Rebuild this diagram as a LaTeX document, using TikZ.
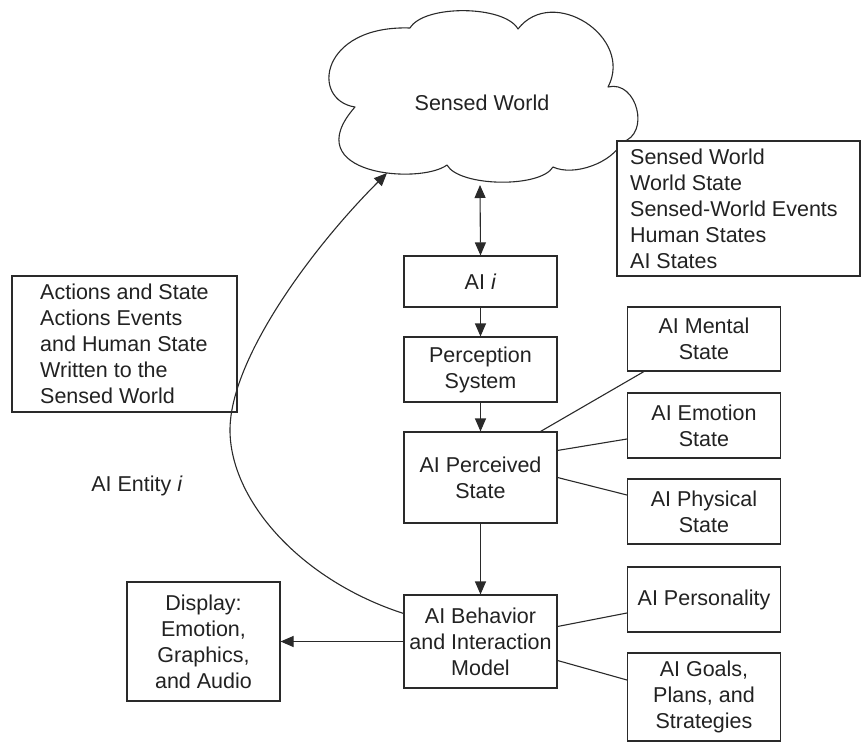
\documentclass[tikz,border=0pt]{standalone}
\usepackage{fontspec}
\setmainfont{Liberation Sans}
\usetikzlibrary{arrows.meta,calc}

\definecolor{ink}{HTML}{222222}
\definecolor{linec}{HTML}{2A2A2A}

\tikzset{
  every node/.style={text=ink, font=\fontsize{21.5}{26}\selectfont},
  boxnode/.style={draw=linec, line width=1.1pt, fill=white, inner sep=0pt,
    minimum width=153pt, align=center},
  framebox/.style={draw=linec, line width=1.1pt, fill=white, inner sep=0pt},
  listtext/.style={align=left, inner sep=0pt, anchor=west},
  link/.style={draw=linec, line width=1.1pt},
  arrow/.style={link, -{Triangle[length=13pt,width=11pt]}},
  twoway/.style={link, {Triangle[length=13pt,width=11pt]}-{Triangle[length=13pt,width=11pt]}},
}

\begin{document}
\begin{tikzpicture}[x=1pt, y=-1pt]
  \useasboundingbox (0,0) rectangle (863,744);

  % cloud outline, traced clockwise from the left notch
  \draw[link, line join=round]
    (355,107) .. controls (310,100) and (320,25) .. (410,28)
              to[bend left=60, looseness=0.65] (518,29)
              to[bend left=85, looseness=1.35] (608,87)
              to[bend left=90, looseness=1.35] (622,142)
              to[bend left=45, looseness=0.8]  (553,167)
              to[bend left=60, looseness=0.6]  (447,165)
              .. controls (420,185) and (295,175) .. cycle;
  \node (cloudtext) at (482,103) {Sensed World};
  \coordinate (cloudbottom) at (480,185);
  \coordinate (cloudleft) at (387,173);

  % list of sensed-world contents
  \node[framebox, minimum width=243pt, minimum height=135pt] (sensbox) at (738.5,208.5) {};
  \node[listtext] (senstext) at (630,208.5)
    {Sensed World\\World State\\Sensed-World Events\\Human States\\AI States};

  % what is written back to the world
  \node[framebox, minimum width=225pt, minimum height=136pt] (actbox) at (124.5,344) {};
  \node[listtext] (acttext) at (40,344)
    {Actions and State\\Actions Events\\and Human State\\Written to the\\Sensed World};

  \node (entity) at (137,486) {AI Entity \textit{i}};

  % main chain
  \node[boxnode, minimum height=51pt] (aii)    at (480.5,281.5) {AI \textit{i}};
  \node[boxnode, minimum height=65pt] (perc)   at (480.5,369.5) {Perception\\System};
  \node[boxnode, minimum height=91pt] (pstate) at (480.5,477.5) {AI Perceived\\State};
  \node[boxnode, minimum height=93pt] (beh)    at (480.5,641.5) {AI Behavior\\and Interaction\\Model};
  \node[boxnode, minimum height=119pt] (disp)  at (203.5,641.5) {Display:\\Emotion,\\Graphics,\\and Audio};

  % state and model components
  \node[boxnode, minimum height=64pt] (mental)   at (704,339)   {AI Mental\\State};
  \node[boxnode, minimum height=65pt] (emotion)  at (704,425.5) {AI Emotion\\State};
  \node[boxnode, minimum height=65pt] (physical) at (704,511.5) {AI Physical\\State};
  \node[boxnode, minimum height=65pt] (pers)     at (704,599.5) {AI Personality};
  \node[boxnode, minimum height=88pt] (goals)    at (704,697)   {AI Goals,\\Plans, and\\Strategies\vphantom{y}};

  % connectors
  \draw[twoway] (cloudbottom) -- (aii.north);
  \draw[arrow] (aii.south) -- (perc.north);
  \draw[arrow] (perc.south) -- (pstate.north);
  \draw[arrow] (pstate.south) -- (beh.north);
  \draw[arrow] (beh.west) -- (disp.east);

  \draw[link] ($(pstate.north east)+(-17,0)$) -- ($(mental.south west)+(17,0)$);
  \draw[link] ($(pstate.north east)+(0,19)$) -- ($(emotion.west)+(0,13.5)$);
  \draw[link] (pstate.east) -- ($(physical.west)+(0,-16.5)$);
  \draw[link] ($(beh.east)+(0,-15)$) -- ($(pers.west)+(0,13.5)$);
  \draw[link] ($(beh.east)+(0,19)$) -- ($(goals.west)+(0,-17)$);

  \draw[arrow] (beh.160) .. controls (300,580) and (230,500) .. (230,430)
                         .. controls (230,360) and (310,250) .. (cloudleft);
\end{tikzpicture}
\end{document}
